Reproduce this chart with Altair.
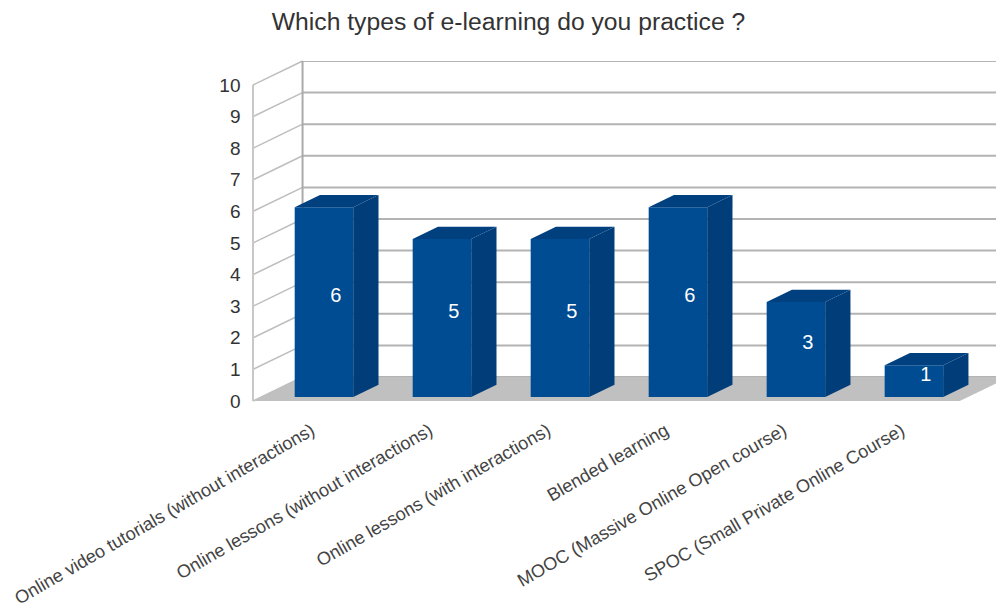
import json
import altair as alt
import pandas as pd

# ---------------- data ----------------
categories = [
    "Online video tutorials (without interactions)",
    "Online lessons (without interactions)",
    "Online lessons (with interactions)",
    "Blended learning",
    "MOOC (Massive Online Open course)",
    "SPOC (Small Private Online Course)",
]
counts = [6, 5, 5, 6, 3, 1]
y_ticks = list(range(0, 11))
title_text = "Which types of e-learning do you practice ?"

# ---------------- 3D geometry (data units) ----------------
DX, DY = 0.42, 0.76      # full depth of the box (x shift, y shift)
F, B = 0.17, 0.68        # bar front / back depth fraction
HW = 0.248               # half bar width
X0, X1 = -0.53, 5.46     # floor front-left / front-right
YMAX = max(y_ticks)
XDOM = [-0.53, 5.767]
YDOM = [0, YMAX + DY]

FONT = "Liberation Sans"
FRONT, SIDE, TOP = "#004C93", "#003D79", "#00407F"
GRID = "#b3b3b3"

n = len(categories)
idx = list(range(n))

x_axis = alt.Axis(values=idx, labelExpr=f"{json.dumps(categories)}[datum.value]", title=None,
                  labelAngle=-30, labelAlign="right", labelBaseline="top", labelPadding=20,
                  labelOffset=-7,
                  labelFontSize=18.2, labelColor="#444444", labelFont=FONT, labelLimit=600,
                  labelOverlap=False, labelFlush=False, labelBound=False,
                  domain=False, ticks=False, grid=False)
y_axis = alt.Axis(values=y_ticks, title=None, labelFontSize=19, labelColor="#333333", labelFont=FONT,
                  labelPadding=13, domain=False, ticks=False, grid=False, labelFlush=False)


def X(field):
    return alt.X(field, type="quantitative", scale=alt.Scale(domain=XDOM, nice=False, zero=False), axis=x_axis)


def Y(field):
    return alt.Y(field, type="quantitative", scale=alt.Scale(domain=YDOM, nice=False, zero=False), axis=y_axis)


front = pd.DataFrame({
    "cat": categories,
    "x": [i + F * DX - HW for i in idx],
    "x2": [i + F * DX + HW for i in idx],
    "y": [F * DY] * n,
    "y2": [v + F * DY for v in counts],
    "tx": [i + F * DX + 0.1 for i in idx],
    "ty": [v / 2 + 0.33 for v in counts],
    "v": counts,
})

side_rows, top_rows = [], []
for i, v in zip(idx, counts):
    for d in (F, B):
        side_rows.append({"bar": i, "x": i + d * DX + HW, "y": d * DY, "y2": v + d * DY})
        top_rows.append({"bar": i, "y": v + d * DY, "x": i + d * DX - HW, "x2": i + d * DX + HW})
side = pd.DataFrame(side_rows)
top = pd.DataFrame(top_rows)

floor = pd.DataFrame({"g": [0, 0], "y": [0, DY], "x": [X0, X0 + DX], "x2": [X1, X1 + DX]})

back_grid = pd.DataFrame({"x": [X0 + DX] * len(y_ticks), "x2": [X1 + DX] * len(y_ticks),
                          "y": [k + DY for k in y_ticks]})
left_grid = pd.DataFrame({"x": [X0] * len(y_ticks), "x2": [X0 + DX] * len(y_ticks),
                          "y": y_ticks, "y2": [k + DY for k in y_ticks]})
edges = pd.DataFrame({"x": [X0, X0 + DX], "y": [0, DY], "y2": [YMAX, YMAX + DY],
                      "c": ["#c8c8c8", "#aaaaaa"]})

back = alt.Chart(back_grid).mark_rule(color=GRID, strokeWidth=2, clip=True).encode(
    x=X("x"), x2="x2", y=Y("y"))
left = alt.Chart(left_grid).mark_rule(color="#bdbdbd", strokeWidth=1.5).encode(
    x=X("x"), x2="x2", y=Y("y"), y2="y2")
edge = alt.Chart(edges).mark_rule(strokeWidth=2).encode(
    x=X("x"), y=Y("y"), y2="y2", color=alt.Color("c:N", scale=None))
floor_l = alt.Chart(floor).mark_area(orient="horizontal", color="#c0c0c0", opacity=1, clip=True).encode(
    y=Y("y"), x=X("x"), x2="x2", detail="g:N")

front_l = alt.Chart(front).mark_rect(color=FRONT).encode(x=X("x"), x2="x2", y=Y("y"), y2="y2")
side_l = alt.Chart(side).mark_area(color=SIDE, opacity=1).encode(
    x=X("x"), y=Y("y"), y2="y2", detail="bar:N")
top_l = alt.Chart(top).mark_area(orient="horizontal", color=TOP, opacity=1).encode(
    y=Y("y"), x=X("x"), x2="x2", detail="bar:N")
text_l = alt.Chart(front).mark_text(color="white", fontSize=20, font=FONT, baseline="middle").encode(
    x=X("tx"), y=Y("ty"), text="v:Q")

chart = alt.layer(back, left, edge, floor_l, front_l, side_l, top_l, text_l).properties(
    width=743, height=340,
    autosize=alt.AutoSizeParams(type="none"),
    padding={"left": 245, "top": 53, "right": 0, "bottom": 204},
    title=alt.TitleParams(title_text, fontSize=24.7, font=FONT, fontWeight="normal", color="#333333",
                          anchor="middle", dx=-116, offset=25),
).configure_view(stroke=None)

chart.save("out.html", embed_options={"renderer": "svg", "actions": False})
